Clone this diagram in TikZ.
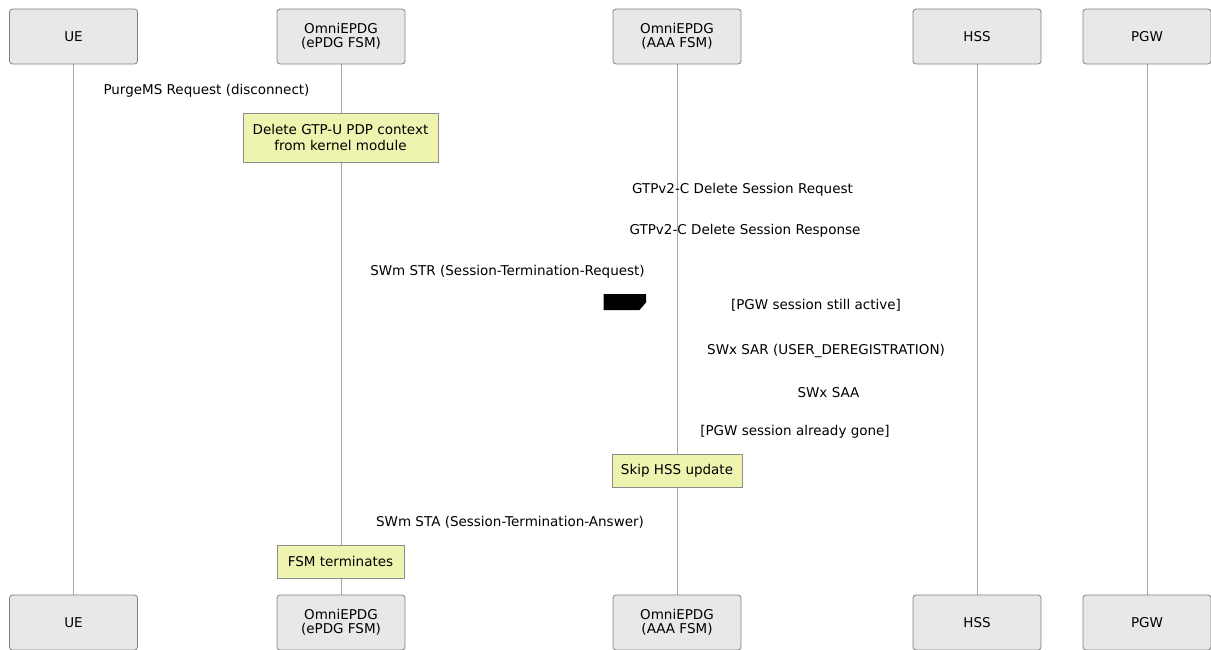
\documentclass[tikz,border=0pt]{standalone}
\usepackage{fontspec}
\setmainfont{DejaVu Sans}
\begin{document}
\begin{tikzpicture}[x=1pt,y=-1pt,
  actor/.style={draw=black!50,line width=0.8pt,fill=black!9,rounded corners=3pt,minimum width=128pt,minimum height=55pt,align=center,font=\fontsize{13.5}{13.5}\selectfont,inner sep=0pt},
  notebox/.style={draw=black!45,line width=0.8pt,fill={rgb,255:red,238;green,243;blue,176},align=center,font=\fontsize{13.5}{16}\selectfont,inner sep=0pt},
  msg/.style={font=\fontsize{13.5}{14}\selectfont,inner sep=0pt},
  life/.style={draw=black!35,line width=0.8pt}]
\useasboundingbox (0,0) rectangle (1211,650);
% lifelines (drawn first, behind boxes)
\coordinate (ue1) at (73.5,64); \coordinate (ue2) at (73.5,595);
\coordinate (ep1) at (341,64); \coordinate (ep2) at (341,595);
\coordinate (aa1) at (677,64); \coordinate (aa2) at (677,595);
\coordinate (hs1) at (977,64); \coordinate (hs2) at (977,595);
\coordinate (pg1) at (1147,64); \coordinate (pg2) at (1147,595);
\draw[life] (ue1) -- (ue2);
\draw[life] (ep1) -- (ep2);
\draw[life] (aa1) -- (aa2);
\draw[life] (hs1) -- (hs2);
\draw[life] (pg1) -- (pg2);
% actors top
\node[actor] (ueT) at (73.5,36.5) {UE};
\node[actor] (epT) at (341,36.5) {OmniEPDG\\(ePDG FSM)};
\node[actor] (aaT) at (677,36.5) {OmniEPDG\\(AAA FSM)};
\node[actor] (hsT) at (977,36.5) {HSS};
\node[actor] (pgT) at (1147,36.5) {PGW};
% actors bottom
\node[actor] (ueB) at (73.5,622.5) {UE};
\node[actor] (epB) at (341,622.5) {OmniEPDG\\(ePDG FSM)};
\node[actor] (aaB) at (677,622.5) {OmniEPDG\\(AAA FSM)};
\node[actor] (hsB) at (977,622.5) {HSS};
\node[actor] (pgB) at (1147,622.5) {PGW};
% notes
\node[notebox,minimum width=195pt,minimum height=49pt] (n1) at (340.5,137.5) {Delete GTP-U PDP context\\from kernel module};
\node[notebox,minimum width=130pt,minimum height=33pt] (n2) at (677,470.5) {Skip HSS update};
\node[notebox,minimum width=127pt,minimum height=33pt] (n3) at (340.5,561.5) {FSM terminates};
% labels
\node[msg] (m1) at (206.5,90.5) {PurgeMS Request (disconnect)};
\node[msg] (m2) at (742.5,189.5) {GTPv2-C Delete Session Request};
\node[msg] (m3) at (745,230.5) {GTPv2-C Delete Session Response};
\node[msg] (m4) at (507.5,271.5) {SWm STR (Session-Termination-Request)};
\node[msg] (m5) at (816,305.5) {[PGW session still active]};
\node[msg] (m6) at (826,350.5) {SWx SAR (USER\_DEREGISTRATION)};
\node[msg] (m7) at (828.5,392.5) {SWx SAA};
\node[msg] (m8) at (795,431.5) {[PGW session already gone]};
\node[msg] (m9) at (510,522.5) {SWm STA (Session-Termination-Answer)};
% black tab
\fill[black] (603.5,294) -- (646,294) -- (646,302.5) -- (639.5,310) -- (603.5,310) -- cycle;
\end{tikzpicture}
\end{document}
